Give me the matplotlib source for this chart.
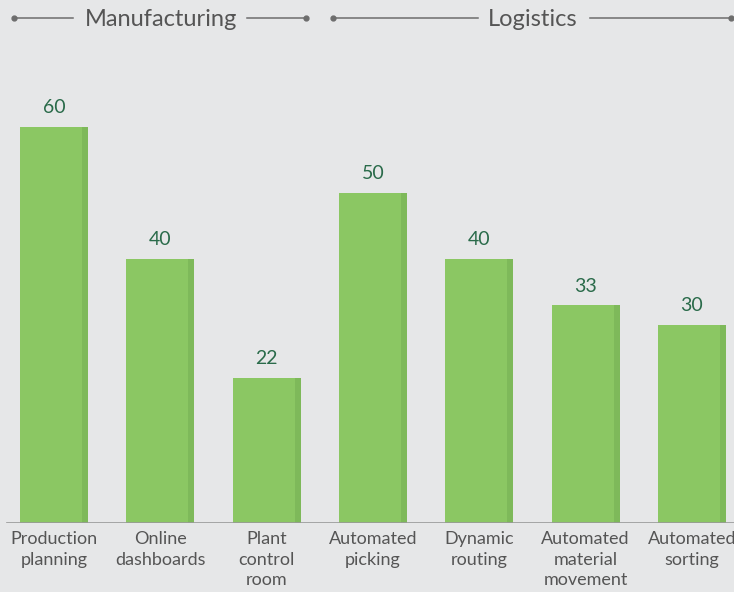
import matplotlib.pyplot as plt
from matplotlib.lines import Line2D

categories = ['Production\nplanning', 'Online\ndashboards', 'Plant\ncontrol\nroom',
              'Automated\npicking', 'Dynamic\nrouting', 'Automated\nmaterial\nmovement',
              'Automated\nsorting']
values = [60, 40, 22, 50, 40, 33, 30]
groups = ['Manufacturing', 'Logistics']

bg = '#e6e7e8'
green = '#8bc763'
green_dark = '#7eb95a'
num_color = '#2a6b4a'
txt_color = '#555555'

plt.rcParams['font.family'] = ['Lato', 'DejaVu Sans']

W, H = 734, 592
fig = plt.figure(figsize=(W / 100, H / 100), dpi=100, facecolor=bg)
ax = fig.add_axes([0, (H - 523) / H, 1, 523 / H])
ax.set_facecolor(bg)

step = 106.33
ax.set_xlim(-54 / step, (W - 54) / step)
ax.set_ylim(0, 523 / 6.6)

x = list(range(len(values)))
bw = 68 / step
sw = 6 / step
ax.bar(x, values, width=bw, color=green, linewidth=0)
ax.bar([i + bw / 2 - sw / 2 for i in x], values, width=sw, color=green_dark, linewidth=0)

for i, v in zip(x, values):
    ax.text(i, v + 1.6, str(v), ha='center', va='bottom', fontsize=14, color=num_color)

for i, c in zip(x, categories):
    ax.text(i, -1.2, c, ha='center', va='top', fontsize=13, color=txt_color,
            linespacing=1.36)

for s in ax.spines.values():
    s.set_visible(False)
ax.set_xticks([])
ax.set_yticks([])
ax.axhline(0, xmin=7 / W, xmax=1, color='#999999', lw=1.2)

# group headers
def px(xp, yp):
    return xp / W, 1 - yp / H

def header(text, xc, x0, x1, x2, x3):
    y = 18
    for a, b in [(x0, x1), (x2, x3)]:
        (fa, fy), (fb, _) = px(a, y), px(b, y)
        fig.add_artist(Line2D([fa, fb], [fy, fy], color='#6d6d6d', lw=1.1))
    for d in (x0, x3):
        fx, fy = px(d, y)
        fig.add_artist(Line2D([fx], [fy], marker='o', ms=3.5, color='#6d6d6d', lw=0))
    fx, fy = px(xc, y + 2)
    fig.text(fx, fy, text, ha='center', va='center', fontsize=17, color=txt_color)

header(groups[0], 161, 14, 73, 247, 306)
header(groups[1], 533, 333, 478, 590, 731)

fig.savefig('out.png', dpi=100, facecolor=bg)
